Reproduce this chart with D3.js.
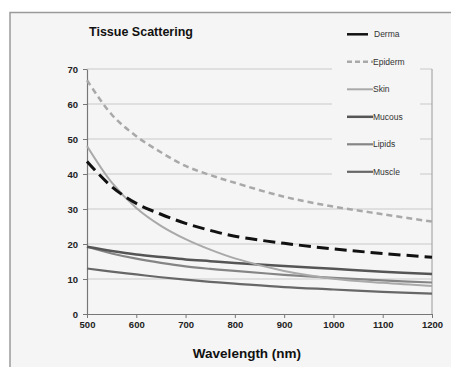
<!DOCTYPE html>
<meta charset="utf-8" />
<script src="https://d3js.org/d3.v7.min.js"></script>
<style>
  body { margin: 0; background: #fff; }
  text { font-family: "Liberation Sans", Arial, sans-serif; }
</style>
<body>
  <div id="my_dataviz"></div>
</body>
<script>
  // wavelengths (nm) and scattering values
  var wavelengths = [500, 550, 600, 650, 700, 750, 800, 900, 1000, 1100, 1200];
  var derma   = [43.6, 36.4, 31.6, 28.5, 25.9, 23.9, 22.2, 20.2, 18.6, 17.3, 16.2];
  var epiderm = [66.8, 57.0, 50.8, 46.2, 42.3, 39.7, 37.5, 33.5, 30.7, 28.5, 26.4];
  var skin    = [48.0, 37.6, 30.3, 25.2, 21.4, 18.4, 15.9, 12.3, 10.1, 8.9, 8.0];
  var mucous  = [19.2, 18.0, 17.0, 16.3, 15.6, 15.1, 14.6, 13.7, 12.9, 12.1, 11.4];
  var lipids  = [19.2, 17.3, 15.8, 14.6, 13.6, 12.9, 12.3, 11.2, 10.3, 9.6, 9.0];
  var muscle  = [13.0, 12.1, 11.3, 10.5, 9.8, 9.2, 8.7, 7.7, 7.0, 6.3, 5.8];

  var seriesNames = ["Derma", "Epiderm", "Skin", "Mucous", "Lipids", "Muscle"];
  var seriesValues = [derma, epiderm, skin, mucous, lipids, muscle];
  var xTicks = [500, 600, 700, 800, 900, 1000, 1100, 1200];
  var yTicks = [0, 10, 20, 30, 40, 50, 60, 70];

  // line looks per series
  var styles = {
    Derma:   { color: "#111111", width: 3,   dash: "12,6", legendDash: null },
    Epiderm: { color: "#a9a9a9", width: 2.5, dash: "6,4",  legendDash: "5,3" },
    Skin:    { color: "#a9a9a9", width: 2,   dash: null,   legendDash: null },
    Mucous:  { color: "#555555", width: 2.5, dash: null,   legendDash: null },
    Lipids:  { color: "#858585", width: 2.2, dash: null,   legendDash: null },
    Muscle:  { color: "#676767", width: 2.2, dash: null,   legendDash: null }
  };

  var W = 451, H = 367;
  var margin = { top: 69, right: 19, bottom: 53, left: 87 },
    width = W - margin.left - margin.right,
    height = H - margin.top - margin.bottom;

  var root = d3.select("#my_dataviz").append("svg")
    .attr("width", W).attr("height", H);

  // chart frame (runs off the right and bottom edges)
  root.append("rect")
    .attr("x", 10).attr("y", 12.5)
    .attr("width", W + 10).attr("height", H + 10)
    .attr("fill", "#f5f5f5")
    .attr("stroke", "#9a9a9a").attr("stroke-width", 1.5);

  var svg = root.append("g")
    .attr("transform", "translate(" + margin.left + "," + margin.top + ")");

  var x = d3.scaleLinear().domain([500, 1200]).range([0, width]);
  var y = d3.scaleLinear().domain([0, 70]).range([height, 0]);

  // gridlines
  svg.append("g").selectAll("line")
    .data(yTicks.filter(function (d) { return d > 0; }))
    .enter().append("line")
    .attr("x1", 0).attr("x2", width)
    .attr("y1", function (d) { return y(d); })
    .attr("y2", function (d) { return y(d); })
    .attr("stroke", "#c9c9c9").attr("stroke-width", 1);

  // right border of plot area
  svg.append("line")
    .attr("x1", width).attr("x2", width)
    .attr("y1", 0).attr("y2", height)
    .attr("stroke", "#9a9a9a").attr("stroke-width", 1);

  // axes
  var xAxis = svg.append("g")
    .attr("transform", "translate(0," + height + ")")
    .call(d3.axisBottom(x).tickValues(xTicks).tickFormat(d3.format("d"))
      .tickSize(4).tickSizeOuter(0).tickPadding(3));
  var yAxis = svg.append("g")
    .call(d3.axisLeft(y).tickValues(yTicks).tickFormat(d3.format("d"))
      .tickSize(4).tickSizeOuter(0).tickPadding(5));

  [xAxis, yAxis].forEach(function (a) {
    a.select(".domain").attr("stroke", "#777").attr("stroke-width", 1.2);
    a.selectAll(".tick line").attr("stroke", "#777");
    a.selectAll(".tick text")
      .attr("fill", "#222")
      .style("font-family", "'Liberation Sans', Arial, sans-serif")
      .style("font-size", "9.5px")
      .style("font-weight", "bold");
  });

  // legend background covers the gridlines
  svg.append("rect")
    .attr("x", 332 - margin.left).attr("y", 20 - margin.top)
    .attr("width", 88).attr("height", 164)
    .attr("fill", "#f5f5f5");

  // series lines
  var line = d3.line()
    .x(function (d) { return x(d[0]); })
    .y(function (d) { return y(d[1]); })
    .curve(d3.curveCatmullRom.alpha(0.5));

  // draw back to front so Derma/Epiderm sit on top
  var drawOrder = ["Muscle", "Lipids", "Mucous", "Skin", "Epiderm", "Derma"];
  drawOrder.forEach(function (name) {
    var vals = seriesValues[seriesNames.indexOf(name)];
    var st = styles[name];
    svg.append("path")
      .datum(wavelengths.map(function (w, i) { return [w, vals[i]]; }))
      .attr("fill", "none")
      .attr("stroke", st.color)
      .attr("stroke-width", st.width)
      .attr("stroke-dasharray", st.dash)
      .attr("d", line);
  });

  // legend
  var legend = root.append("g");
  seriesNames.forEach(function (name, i) {
    var st = styles[name];
    var ly = 34.3 + i * 27.5;
    legend.append("line")
      .attr("x1", 347).attr("x2", name === "Derma" ? 368 : 373)
      .attr("y1", ly).attr("y2", ly)
      .attr("stroke", st.color)
      .attr("stroke-width", name === "Derma" ? 2.5 : st.width)
      .attr("stroke-dasharray", st.legendDash);
    legend.append("text")
      .attr("x", name === "Derma" ? 374 : 373).attr("y", ly + 3)
      .attr("fill", "#333")
      .style("font-size", "8.5px")
      .text(name);
  });

  // titles
  root.append("text")
    .attr("x", 89).attr("y", 36)
    .style("font-size", "12.5px").style("font-weight", "bold")
    .attr("fill", "#111")
    .text("Tissue Scattering");

  root.append("text")
    .attr("x", 247).attr("y", 358)
    .attr("text-anchor", "middle")
    .style("font-size", "13.5px").style("font-weight", "bold")
    .attr("fill", "#111")
    .text("Wavelength (nm)");
</script>
